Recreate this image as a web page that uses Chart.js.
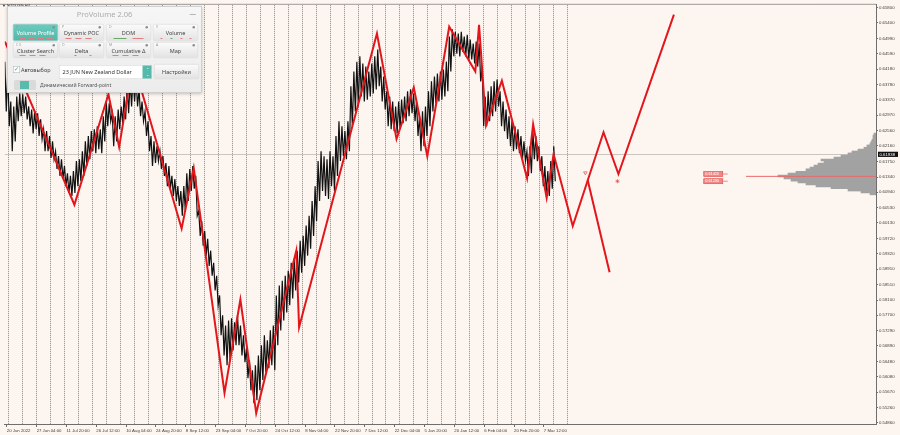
<!DOCTYPE html>
<html>
<head>
<meta charset="utf-8">
<script src="https://cdn.jsdelivr.net/npm/chart.js@4.4.1/dist/chart.umd.min.js"></script>
<style>
  html, body { margin: 0; padding: 0; background: #fdf5ef; }
  #wrap { position: relative; width: 900px; height: 435px; overflow: hidden; }
  #main { position: absolute; left: 0; top: 0; }
  #profile { position: absolute; left: 0; top: 3px; }
  #panel { position: absolute; left: 7px; top: 6px; width: 390px; height: 174px; box-sizing: border-box;
    transform: scale(0.5); transform-origin: 0 0; background: linear-gradient(#f6f6f6, #ececec);
    border: 2px solid #d0d0d0; box-shadow: 0 2px 6px rgba(0,0,0,.22); font-family: 'Noto Sans', sans-serif; }
  .title { position: absolute; left: 0; right: 0; top: 3px; text-align: center; font-size: 15px; color: #acacac; }
  .min { position: absolute; right: 10px; top: 4px; font-size: 13px; color: #8a8a8a; }
  .btn { position: absolute; width: 90px; height: 34px; box-sizing: border-box; border: 1px solid #d4d4d4; border-radius: 3px;
    background: linear-gradient(#fbfbfb, #e3e3e3); font-size: 11px; color: #444; text-align: center; line-height: 32px; }
  .btn.on { background: linear-gradient(#6bcabe, #52b8ab); color: #fff; border-color: #48a99c; }
  .g { position: absolute; right: 5px; top: 3px; width: 5px; height: 5px; border-radius: 50%; background: #8c8c8c; }
  .k { position: absolute; left: 5px; top: 1px; font-size: 7px; line-height: 8px; color: #999; }
  .d { position: absolute; bottom: 3px; height: 2px; width: 12px; background: #e07f7f; }
  .d.gr { background: #6aa86a; }
  .chk { position: absolute; left: 10px; top: 118px; width: 12px; height: 12px; background: #fff; border: 1px solid #aaa; }
  .chk:after { content: '✓'; position: absolute; left: 1px; top: -4px; font-size: 12px; color: #2e9e8f; }
  .lbl { position: absolute; font-size: 11px; color: #444; }
  .sel { position: absolute; left: 102px; top: 116px; width: 186px; height: 28px; box-sizing: border-box; background: #fff;
    border: 1px solid #cfcfcf; font-size: 11px; color: #333; line-height: 26px; padding-left: 6px; }
  .spin { position: absolute; right: 0; top: 0; width: 18px; height: 26px; background: #55b9ac; color: #fff; font-size: 7px;
    line-height: 10px; text-align: center; padding-top: 3px; box-sizing: border-box; }
  .tog { position: absolute; left: 12px; top: 146px; width: 44px; height: 20px; background: #dadada; border-radius: 3px; }
  .tog:after { content: ''; position: absolute; left: 12px; top: 2px; width: 18px; height: 16px; background: #58bbae; }
</style>
</head>
<body>
<div id="wrap">
  <canvas id="main" width="900" height="435"></canvas>
  <canvas id="profile" width="876" height="421"></canvas>
  <div id="panel">
    <div class="title">ProVolume 2.06</div>
    <div class="min">—</div>
    <div class="btn on" style="left:10px;top:34px">Volume Profile<span class="k">P</span><i class="g"></i><b class="d" style="left:12px"></b><b class="d" style="left:30px"></b><b class="d" style="left:48px"></b><b class="d" style="left:66px"></b></div>
    <div class="btn" style="left:102px;top:34px">Dynamic POC<span class="k">P</span><i class="g"></i><b class="d" style="left:12px"></b><b class="d" style="left:32px"></b><b class="d" style="left:52px"></b></div>
    <div class="btn" style="left:196px;top:34px">DOM<span class="k">D</span><i class="g"></i><b class="d gr" style="left:14px;width:26px"></b><b class="d" style="left:52px;width:22px"></b></div>
    <div class="btn" style="left:290px;top:34px">Volume<span class="k">V</span><i class="g"></i><b class="d" style="left:14px;width:4px"></b><b class="d gr" style="left:34px;width:4px"></b><b class="d" style="left:54px;width:4px"></b><b class="d" style="left:72px;width:4px"></b></div>
    <div class="btn" style="left:10px;top:70px;height:32px">Cluster Search<span class="k">C S</span><i class="g"></i><b class="d" style="left:12px"></b><b class="d" style="left:32px"></b><b class="d" style="left:52px"></b></div>
    <div class="btn" style="left:102px;top:70px;height:32px">Delta<span class="k">D</span><i class="g"></i><b class="d gr" style="left:30px;width:4px"></b><b class="d" style="left:60px;width:4px"></b></div>
    <div class="btn" style="left:196px;top:70px;height:32px">Cumulative Δ<span class="k">M</span><i class="g"></i><b class="d" style="left:12px"></b><b class="d" style="left:32px"></b><b class="d" style="left:52px"></b></div>
    <div class="btn" style="left:290px;top:70px;height:32px">Map<span class="k">A</span><i class="g"></i></div>
    <div class="chk"></div>
    <div class="lbl" style="left:26px;top:117px">Автовыбор</div>
    <div class="sel">23 JUN New Zealand Dollar<div class="spin">⌃<br>⌄</div></div>
    <div class="btn" style="left:292px;top:114px;height:30px;line-height:28px">Настройки</div>
    <div class="tog"></div>
    <div class="lbl" style="left:64px;top:148px;font-size:10px;color:#555">Динамический Forward-point</div>
  </div>
</div>
<script>
// price scale (right axis) and time scale (bottom axis, in H4 bar numbers)
const priceTicks = [0.65800, 0.65400, 0.64990, 0.64590, 0.64180, 0.63780, 0.63370, 0.62970, 0.62560, 0.62160,
  0.61750, 0.61340, 0.60940, 0.60530, 0.60130, 0.59720, 0.59320, 0.58910, 0.58510, 0.58100,
  0.57700, 0.57290, 0.56890, 0.56480, 0.56080, 0.55670, 0.55260, 0.54860];
const timeLabels = ['20 Jun 2022', '27 Jun 04:00', '11 Jul 20:00', '26 Jul 12:00', '10 Aug 04:00', '24 Aug 20:00',
  '8 Sep 12:00', '23 Sep 04:00', '7 Oct 20:00', '24 Oct 12:00', '8 Nov 04:00', '22 Nov 20:00', '7 Dec 12:00',
  '22 Dec 04:00', '5 Jan 20:00', '20 Jan 12:00', '6 Feb 04:00', '20 Feb 20:00', '7 Mar 12:00'];
const timeTickBars = [0, 64, 128, 192, 256, 320, 384, 448, 512, 576, 640, 704, 768, 832, 896, 960, 1024, 1088, 1152];

const Y_MIN = 0.54833, Y_MAX = 0.65878;
const X_MIN = -4.3, X_MAX = 1864.5;
const FIRST_WEEK_BAR = 3.4, BARS_PER_WEEK = 30, LAST_BAR = 1206;
const CURRENT_PRICE = 0.61938;

// price path, grouped: one high and one low per group of bars
const GROUP_START = -4.3, GROUP_STEP = 6.4;
const barHigh = [
  .6438, .6412, .6333, .6320, .6346, .6354, .6352, .6346, .6320, .6312,
  .6307, .6302, .6286, .6260, .6255, .6242, .6228, .6202, .6189, .6181,
  .6163, .6144, .6137, .6150, .6176, .6181, .6202, .6228, .6242, .6255,
  .6260, .6268, .6260, .6294, .6333, .6328, .6302, .6294, .6312, .6320,
  .6346, .6373, .6386, .6399, .6391, .6365, .6333, .6307, .6281, .6242,
  .6228, .6215, .6202, .6189, .6171, .6163, .6137, .6129, .6110, .6097,
  .6110, .6144, .6155, .6163, .6137, .6045, .6018, .5992, .5971, .5940,
  .5908, .5874, .5822, .5770, .5743, .5756, .5762, .5751, .5770, .5743,
  .5717, .5683, .5651, .5625, .5638, .5664, .5691, .5717, .5704, .5730,
  .5743, .5822, .5848, .5861, .5874, .5887, .5908, .5919, .5940, .5966,
  .5979, .6006, .6032, .6071, .6110, .6176, .6202, .6189, .6181, .6202,
  .6189, .6242, .6281, .6268, .6255, .6281, .6373, .6412, .6438, .6452,
  .6433, .6425, .6412, .6433, .6452, .6470, .6425, .6399, .6360, .6346,
  .6333, .6320, .6333, .6338, .6346, .6360, .6365, .6354, .6333, .6294,
  .6307, .6320, .6360, .6386, .6399, .6407, .6412, .6417, .6438, .6504,
  .6523, .6517, .6512, .6517, .6504, .6509, .6496, .6486, .6491, .6486,
  .6425, .6346, .6360, .6373, .6386, .6391, .6360, .6333, .6312, .6294,
  .6281, .6268, .6260, .6242, .6228, .6202, .6215, .6255, .6242, .6215,
  .6189, .6163, .6150, .6176, .6215];
const barLow = [
  .6307, .6268, .6202, .6228, .6281, .6294, .6302, .6286, .6268, .6249,
  .6260, .6242, .6234, .6202, .6202, .6184, .6181, .6155, .6137, .6129,
  .6110, .6092, .6084, .6092, .6110, .6123, .6137, .6163, .6181, .6202,
  .6197, .6207, .6197, .6228, .6268, .6281, .6215, .6228, .6260, .6276,
  .6286, .6302, .6320, .6333, .6320, .6294, .6281, .6242, .6202, .6163,
  .6171, .6176, .6155, .6137, .6110, .6103, .6084, .6071, .6058, .6032,
  .6045, .6071, .6097, .6103, .6032, .5979, .5953, .5927, .5900, .5874,
  .5835, .5796, .5717, .5664, .5638, .5651, .5677, .5691, .5691, .5664,
  .5646, .5604, .5572, .5538, .5546, .5572, .5599, .5620, .5630, .5638,
  .5625, .5691, .5730, .5756, .5777, .5796, .5814, .5835, .5856, .5882,
  .5900, .5927, .5945, .5979, .6018, .6071, .6097, .6084, .6076, .6110,
  .6097, .6137, .6176, .6189, .6181, .6202, .6268, .6307, .6320, .6346,
  .6333, .6338, .6346, .6354, .6365, .6373, .6333, .6312, .6268, .6260,
  .6255, .6249, .6260, .6276, .6281, .6294, .6302, .6281, .6242, .6202,
  .6215, .6242, .6268, .6307, .6328, .6333, .6338, .6346, .6360, .6412,
  .6452, .6459, .6452, .6464, .6452, .6444, .6444, .6433, .6425, .6386,
  .6268, .6268, .6281, .6294, .6307, .6320, .6268, .6255, .6234, .6215,
  .6202, .6207, .6197, .6181, .6176, .6137, .6144, .6181, .6176, .6150,
  .6110, .6092, .6084, .6103, .6123];

// zigzag swings and the forecast continuation
const zzBars = [-4, 145, 218, 241, 271, 375, 401, 467, 501, 535, 621, 627, 794, 836, 873, 902, 949, 1005,
  1013, 1028, 1062, 1116, 1129, 1158, 1173, 1214, 1280, 1312, 1431];
const zzPrices = [.6491, .6061, .6352, .6213, .6438, .5998, .6158, .5565, .5811, .5512, .5940, .5738, .6512,
  .6234, .6370, .6189, .6530, .6412, .6535, .6270, .6388, .6131, .6273, .6079, .6194, .6005, .6252, .6142, .6562];
const branchBars = [1246, 1293];
const branchPrices = [.6126, .5883];
const markBars = [1241, 1310];
const markPrices = [.6145, .6123];

// forward-point labels
const fwdBars = [1495, 1495];
const fwdPrices = [.6142, .6123];
const fwdTexts = ['0.61420', '0.61230'];

// volume profile
const profilePrices = [.6244, .6239, .6234, .6228, .6223, .6218, .6213, .6207, .6202, .6197, .6192, .6186,
  .6181, .6176, .6171, .6165, .6160, .6155, .6150, .6144, .6139, .6134, .6129, .6123, .6118, .6113, .6108,
  .6103, .6097, .6092, .6087];
const profileVolumes = [2, 3, 3, 4, 5, 6, 9, 12, 18, 24, 28, 35, 42, 55, 52, 58, 62, 66, 70, 80, 88, 98, 92,
  85, 78, 70, 60, 45, 28, 15, 6];
const POC_PRICE = 0.6133, POC_REACH = 130;

const separatorBars = [];
for (let b = FIRST_WEEK_BAR; b <= LAST_BAR; b += BARS_PER_WEEK) separatorBars.push(b);

// each group is drawn as its high followed by its low, giving the dense bar-by-bar texture
const pricePath = [];
barHigh.forEach((h, i) => {
  const gx = GROUP_START + i * GROUP_STEP;
  pricePath.push({ x: gx, y: h });
  pricePath.push({ x: gx + GROUP_STEP / 2, y: barLow[i] });
});
const zigzag = zzBars.map((b, i) => ({ x: b, y: zzPrices[i] }));
const branch = branchBars.map((b, i) => ({ x: b, y: branchPrices[i] }));
const marks = markBars.map((b, i) => ({ x: b, y: markPrices[i] }));

const AXIS_FONT = { family: 'Liberation Sans', size: 4.3 };
const noSidePadding = s => { s.paddingLeft = 0; s.paddingRight = 0; };

const mtPlugin = {
  id: 'mt',
  beforeDatasetsDraw(chart) {
    const { ctx, chartArea: a, scales: { y } } = chart;
    const py = Math.round(y.getPixelForValue(CURRENT_PRICE)) + 0.5;
    ctx.save();
    ctx.strokeStyle = '#cbc4bf';
    ctx.lineWidth = 1;
    ctx.beginPath(); ctx.moveTo(a.left, py); ctx.lineTo(a.right, py); ctx.stroke();
    ctx.restore();
  },
  afterDraw(chart) {
    const { ctx, chartArea: a, scales: { x, y } } = chart;
    ctx.save();
    // window top edge
    ctx.strokeStyle = '#9a9a9a';
    ctx.lineWidth = 1;
    ctx.beginPath(); ctx.moveTo(0, a.top - 0.5); ctx.lineTo(a.right, a.top - 0.5); ctx.stroke();
    // symbol caption
    ctx.fillStyle = '#333';
    ctx.font = '4px "Liberation Sans"';
    ctx.textBaseline = 'middle';
    ctx.fillText('▼ NZDUSD,H4', 2, 5.5);
    // current price box on the axis
    const py = y.getPixelForValue(CURRENT_PRICE);
    ctx.fillStyle = '#111';
    ctx.fillRect(a.right + 2, py - 2.6, 20, 5.2);
    ctx.fillStyle = '#fff';
    ctx.font = '4.3px "Liberation Sans"';
    ctx.fillText(CURRENT_PRICE.toFixed(5), a.right + 3.5, py + 0.2);
    // forward-point labels
    fwdBars.forEach((b, i) => {
      const lx = x.getPixelForValue(b), ly = y.getPixelForValue(fwdPrices[i]);
      ctx.fillStyle = '#f08787';
      ctx.fillRect(lx, ly - 2.5, 19, 5);
      ctx.strokeStyle = '#e04848';
      ctx.lineWidth = 0.6;
      ctx.strokeRect(lx, ly - 2.5, 19, 5);
      ctx.beginPath(); ctx.moveTo(lx + 19, ly); ctx.lineTo(lx + 24, ly); ctx.stroke();
      ctx.fillStyle = '#fff';
      ctx.font = '3.8px "Liberation Sans"';
      ctx.fillText(fwdTexts[i], lx + 1.5, ly + 0.2);
    });
    ctx.restore();
  }
};

new Chart(document.getElementById('main'), {
  type: 'line',
  data: {
    datasets: [
      { data: zigzag, xAxisID: 'x', yAxisID: 'y', borderColor: '#e3161c', borderWidth: 2,
        pointRadius: 0, tension: 0, order: 0 },
      { data: branch, xAxisID: 'x', yAxisID: 'y', borderColor: '#e3161c', borderWidth: 2,
        pointRadius: 0, order: 0 },
      { data: marks, xAxisID: 'x', yAxisID: 'y', showLine: false, pointStyle: ['triangle', 'star'],
        rotation: [180, 0], pointRadius: 2, borderColor: '#e45a5a', backgroundColor: 'rgba(0,0,0,0)',
        pointBorderWidth: 0.8, order: 1 },
      { data: pricePath, xAxisID: 'x', yAxisID: 'y', borderColor: '#111', borderWidth: 1.2,
        pointRadius: 0, tension: 0, order: 5 }
    ]
  },
  options: {
    responsive: false,
    animation: false,
    events: [],
    layout: { padding: { top: 3, left: 0, right: 0, bottom: 0 } },
    plugins: { legend: { display: false }, tooltip: { enabled: false } },
    scales: {
      x: {
        type: 'linear', position: 'bottom', min: X_MIN, max: X_MAX,
        afterBuildTicks: s => { s.ticks = timeTickBars.map(v => ({ value: v })); },
        afterFit: s => { s.height = 11; noSidePadding(s); },
        ticks: { callback: (v, i) => timeLabels[i], align: 'start', maxRotation: 0, autoSkip: false,
          font: AXIS_FONT, color: '#3c3c3c', padding: 1 },
        grid: { drawOnChartArea: false, tickLength: 3, color: '#6e6e6e' },
        border: { color: '#6e6e6e' }
      },
      x2: {
        type: 'linear', position: 'bottom', min: X_MIN, max: X_MAX,
        afterBuildTicks: s => { s.ticks = separatorBars.map(v => ({ value: v })); },
        afterFit: s => { s.height = 0; noSidePadding(s); },
        ticks: { display: false },
        grid: { drawOnChartArea: true, drawTicks: false, color: '#8a8a8a', lineWidth: 1 },
        border: { display: false, dash: [1, 1] }
      },
      y: {
        type: 'linear', position: 'right', min: Y_MIN, max: Y_MAX,
        afterBuildTicks: s => { s.ticks = priceTicks.map(v => ({ value: v })); },
        afterFit: s => { s.width = 24; },
        ticks: { callback: v => v.toFixed(5), autoSkip: false, font: AXIS_FONT, color: '#3c3c3c', padding: 1 },
        grid: { drawOnChartArea: false, tickLength: 2, color: '#6e6e6e' },
        border: { color: '#6e6e6e' }
      }
    }
  },
  plugins: [mtPlugin]
});

// volume profile on its own transparent layer, same price range
new Chart(document.getElementById('profile'), {
  type: 'bar',
  data: {
    datasets: [
      { type: 'line', data: [{ x: 0, y: POC_PRICE }, { x: POC_REACH, y: POC_PRICE }], borderColor: '#e86a6a',
        borderWidth: 1, pointRadius: 0, order: 0 },
      { data: profileVolumes.map((v, i) => ({ x: v, y: profilePrices[i] })), backgroundColor: '#a2a2a2',
        barPercentage: 1, categoryPercentage: 1, order: 1 }
    ]
  },
  options: {
    indexAxis: 'y',
    responsive: false,
    animation: false,
    events: [],
    plugins: { legend: { display: false }, tooltip: { enabled: false } },
    scales: {
      y: { type: 'linear', min: Y_MIN, max: Y_MAX, offset: false, display: false },
      x: { type: 'linear', min: 0, max: 876, reverse: true, display: false }
    }
  }
});
</script>
</body>
</html>
